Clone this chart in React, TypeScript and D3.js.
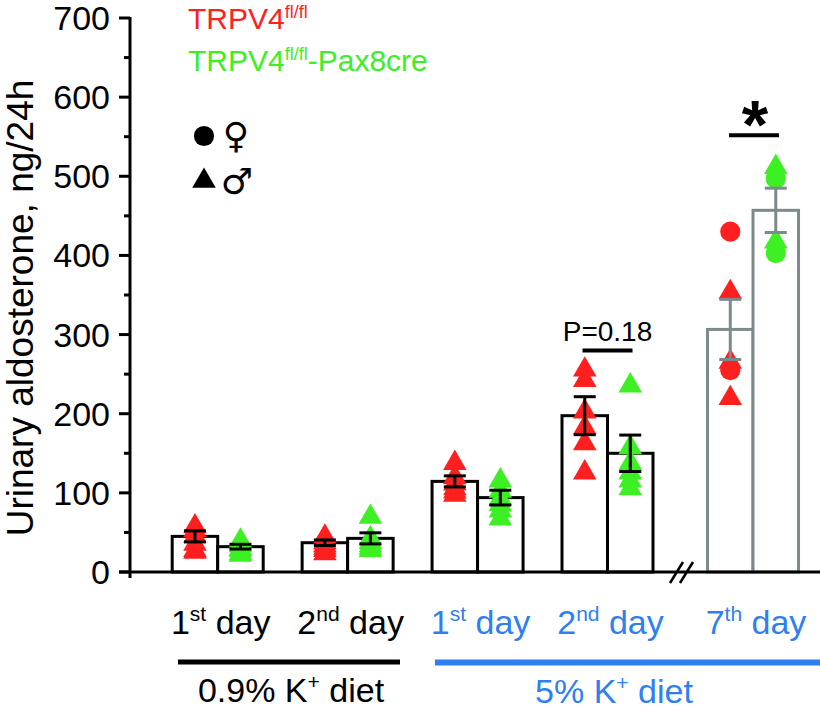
import { scaleLinear, symbol, symbolTriangle, symbolCircle } from "d3";
import { FC } from "react";

// x-axis groups
const dayNum = ["1", "2", "1", "2", "7"];
const daySuffix = ["st", "nd", "st", "nd", "th"];
const dietOfGroup = [0, 0, 1, 1, 1];
const dietLabels = ["0.9% K", "5% K"];

// TRPV4 fl/fl (red)
const floxMean = [45, 37, 114.5, 197.5, 306.5];
const floxSem = [7, 3.5, 7, 24, 38];
const floxPoints = [
  [60, 55, 48, 38, 30, 28],
  [47, 40, 36, 33, 30, 26],
  [140, 122, 114, 108, 104, 100],
  [258, 245, 205, 185, 165, 128],
  [430, 356, 268, 255, 222],
];
const floxSex = [
  ["m", "m", "m", "m", "m", "m"],
  ["m", "m", "m", "m", "m", "m"],
  ["m", "m", "m", "m", "m", "m"],
  ["m", "m", "m", "m", "m", "m"],
  ["f", "m", "m", "f", "m"],
];

// TRPV4 fl/fl-Pax8cre (green)
const creMean = [32, 42.5, 94, 150, 457];
const creSem = [3, 7, 9.3, 23, 28];
const crePoints = [
  [42, 36, 32, 30, 26, 24],
  [72, 45, 40, 36, 33, 30],
  [118, 105, 95, 88, 80, 70],
  [238, 160, 140, 128, 118, 108],
  [514, 497, 420, 403],
];
const creSex = [
  ["m", "m", "m", "m", "m", "m"],
  ["m", "m", "m", "m", "m", "m"],
  ["m", "m", "m", "m", "m", "m"],
  ["m", "m", "m", "m", "m", "m"],
  ["m", "f", "m", "f"],
];

const yTicks = [0, 100, 200, 300, 400, 500, 600, 700];
const yMinor = [50, 150, 250, 350, 450, 550, 650];

const RED = "#ff1f1f";
const GREEN = "#3cf023";
const BLUE = "#2f7ff0";
const GREY = "#7d8a8c";
const FONT = "'Liberation Sans', Arial, Helvetica, sans-serif";

const W = 820;
const H = 716;

const y = scaleLinear().domain([0, 700]).range([572, 18]);
// group slot -> x centre; the 7th day sits after the axis break
const x = scaleLinear().domain([0, 3]).range([217.7, 607.5]);
const slot = (i: number) => (i >= 4 ? i + 0.12 : i);
const barW = 45.5;

const triPath = symbol(symbolTriangle, 240)()!;
const circPath = symbol(symbolCircle, 320)()!;

const Marker: FC<{ cx: number; cy: number; sex: string; fill: string }> = ({ cx, cy, sex, fill }) => (
  <path
    d={sex === "f" ? circPath : triPath}
    transform={`translate(${cx},${cy + (sex === "f" ? 0 : 2)})`}
    fill={fill}
  />
);

const App: FC = () => {
  const series = [
    { mean: floxMean, sem: floxSem, pts: floxPoints, sex: floxSex, color: RED, off: -barW / 2 },
    { mean: creMean, sem: creSem, pts: crePoints, sex: creSex, color: GREEN, off: barW / 2 },
  ];

  return (
    <svg width={W} height={H} style={{ position: "absolute", left: 0, top: 0 }} fontFamily={FONT}>
      <rect width={W} height={H} fill="#fff" />

      {/* bars */}
      {series.map((s, si) =>
        s.mean.map((m, i) => {
          const c = x(slot(i)) + s.off;
          const stroke = i === 4 ? GREY : "#000";
          return (
            <rect
              key={`b${si}${i}`}
              x={c - barW / 2}
              y={y(m)}
              width={barW}
              height={y(0) - y(m)}
              fill="#fff"
              stroke={stroke}
              strokeWidth={3}
            />
          );
        })
      )}

      {/* individual animals */}
      {series.map((s, si) =>
        s.pts.map((arr, i) =>
          arr.map((v, k) => (
            <Marker key={`p${si}${i}${k}`} cx={x(slot(i)) + s.off} cy={y(v)} sex={s.sex[i][k]} fill={s.color} />
          ))
        )
      )}

      {/* SEM error bars */}
      {series.map((s, si) =>
        s.mean.map((m, i) => {
          const c = x(slot(i)) + s.off;
          const stroke = i === 4 ? GREY : "#000";
          const lo = y(m - s.sem[i]);
          const hi = y(m + s.sem[i]);
          return (
            <g key={`e${si}${i}`} stroke={stroke} strokeWidth={3}>
              <line x1={c} x2={c} y1={lo} y2={hi} />
              <line x1={c - 11} x2={c + 11} y1={lo} y2={lo} />
              <line x1={c - 11} x2={c + 11} y1={hi} y2={hi} />
            </g>
          );
        })
      )}

      {/* y axis */}
      <g stroke="#000" strokeWidth={3}>
        <line x1={130} x2={130} y1={y(700) - 1} y2={y(0) + 6} />
        {yTicks.map((t) => (
          <line key={t} x1={119} x2={130} y1={y(t)} y2={y(t)} />
        ))}
        {yMinor.map((t) => (
          <line key={t} x1={124} x2={130} y1={y(t)} y2={y(t)} />
        ))}
        <line x1={119} x2={W} y1={y(0)} y2={y(0)} />
        {/* axis break */}
        <line x1={670} x2={683} y1={y(0) + 11} y2={y(0) - 10} strokeWidth={2.5} />
        <line x1={680} x2={693} y1={y(0) + 11} y2={y(0) - 10} strokeWidth={2.5} />
      </g>
      {yTicks.map((t) => (
        <text key={t} x={110} y={y(t) + 12} fontSize={34} textAnchor="end">
          {t}
        </text>
      ))}
      <text transform={`translate(33,${308}) rotate(-90)`} fontSize={37} textAnchor="middle">
        Urinary aldosterone, ng/24h
      </text>

      {/* x labels */}
      {dayNum.map((d, i) => (
        <text
          key={i}
          x={x(slot(i)) + 3}
          y={634}
          fontSize={34}
          textAnchor="middle"
          fill={dietOfGroup[i] === 0 ? "#000" : BLUE}
        >
          {d}
          <tspan fontSize={21} dy={-13}>
            {daySuffix[i]}
          </tspan>
          <tspan dy={13}> day</tspan>
        </text>
      ))}
      <line x1={178} x2={400} y1={662} y2={662} stroke="#000" strokeWidth={5} />
      <line x1={435} x2={W} y1={662.5} y2={662.5} stroke={BLUE} strokeWidth={6} />
      <text x={291} y={702} fontSize={34} textAnchor="middle">
        {dietLabels[0]}
        <tspan fontSize={21} dy={-13}>+</tspan>
        <tspan dy={13}> diet</tspan>
      </text>
      <text x={614} y={703} fontSize={34} textAnchor="middle" fill={BLUE}>
        {dietLabels[1]}
        <tspan fontSize={21} dy={-13}>+</tspan>
        <tspan dy={13}> diet</tspan>
      </text>

      {/* significance */}
      <text x={x(3)} y={y(280) - 9} fontSize={28} textAnchor="middle">
        P=0.18
      </text>
      <line x1={x(3) - 25} x2={x(3) + 25} y1={y(280)} y2={y(280)} stroke="#000" strokeWidth={4} />
      <text x={x(slot(4)) + 2} y={148} fontSize={68} fontWeight="bold" textAnchor="middle">
        *
      </text>
      <line
        x1={x(slot(4)) - 24}
        x2={x(slot(4)) + 26}
        y1={y(552)}
        y2={y(552)}
        stroke="#000"
        strokeWidth={4}
      />

      {/* legend */}
      <text x={188} y={29} fontSize={30} fill={RED}>
        TRPV4
        <tspan fontSize={18} dy={-11}>fl/fl</tspan>
      </text>
      <text x={188} y={71} fontSize={30} fill={GREEN}>
        TRPV4
        <tspan fontSize={18} dy={-11}>fl/fl</tspan>
        <tspan dy={11}>-Pax8cre</tspan>
      </text>
      <Marker cx={204} cy={136} sex="f" fill="#000" />
      <Marker cx={204} cy={179} sex="m" fill="#000" />
      <text x={236} y={148} fontSize={36} textAnchor="middle" fontFamily="'DejaVu Sans'">
        ♀
      </text>
      <text x={237} y={194} fontSize={36} textAnchor="middle" fontFamily="'DejaVu Sans'">
        ♂
      </text>
    </svg>
  );
};

export default App;
